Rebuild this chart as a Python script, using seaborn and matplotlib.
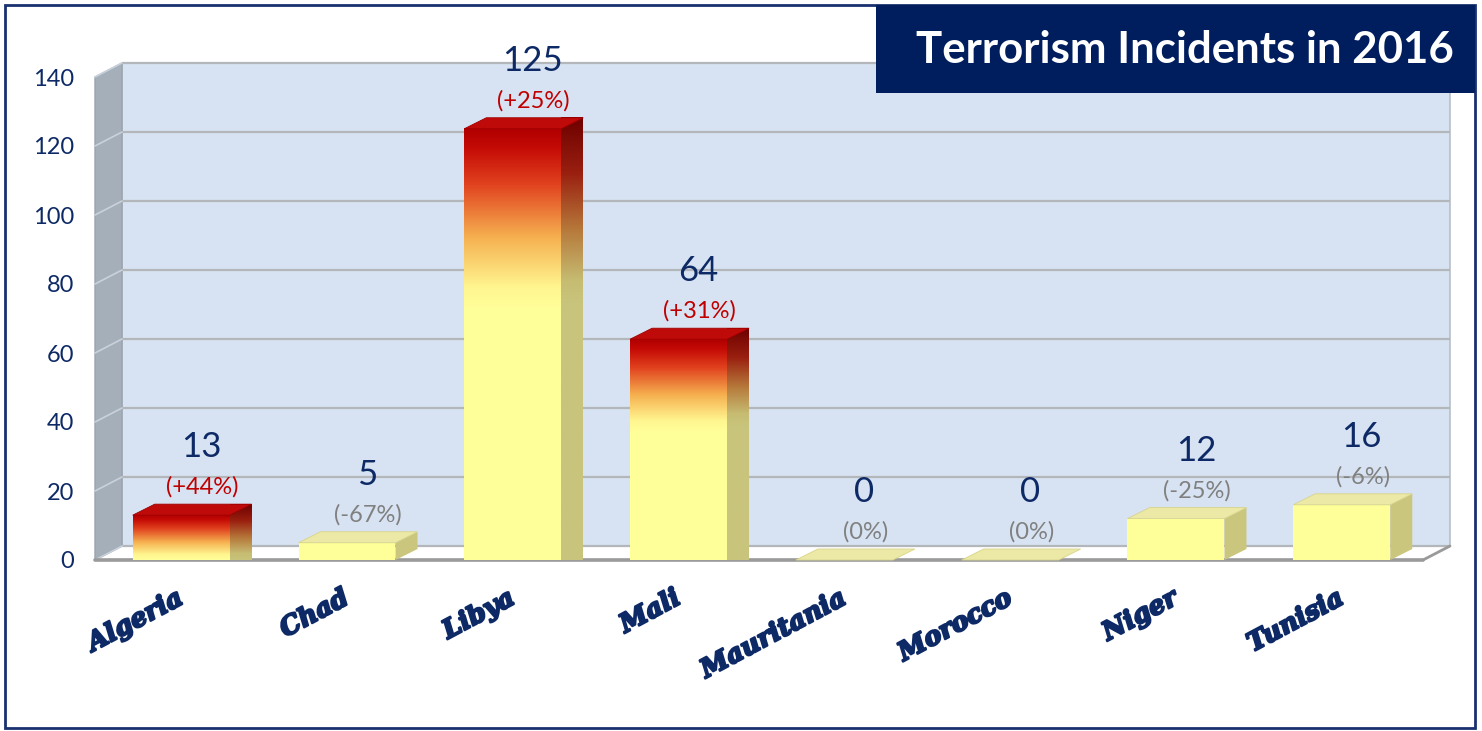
import numpy as np
import pandas as pd
import matplotlib
matplotlib.use("Agg")
import matplotlib.pyplot as plt
import matplotlib.patheffects as pe
import seaborn as sns
from matplotlib.patches import Polygon, Rectangle
from matplotlib.colors import LinearSegmentedColormap

# ---------------- data ----------------
countries = ["Algeria", "Chad", "Libya", "Mali", "Mauritania", "Morocco", "Niger", "Tunisia"]
incidents = [13, 5, 125, 64, 0, 0, 12, 16]
change_pct = [44, -67, 25, 31, 0, 0, -25, -6]
yticks = [0, 20, 40, 60, 80, 100, 120, 140]
title = "Terrorism Incidents in 2016"

# ---------------- style ----------------
sns.set_theme(style="white")
plt.rcParams['font.family'] = ['Lato', 'DejaVu Sans']

NAVY = "#0e2a66"
W, H = 1482, 731
fig = plt.figure(figsize=(W / 100, H / 100), dpi=100)
fig.patch.set_facecolor("white")


def px_ax(l, t, r, b):
    return [l / W, 1 - b / H, (r - l) / W, (b - t) / H]


AX_L, AX_T, AX_R, AX_B = 95, 77, 1423, 560
ax = fig.add_axes(px_ax(AX_L, AX_T, AX_R, AX_B))
df = pd.DataFrame({"country": countries, "incidents": incidents})
sns.barplot(data=df, x="country", y="incidents", ax=ax, color="#ffff99",
            width=0.585, saturation=1, zorder=3, linewidth=0)
bars = list(ax.patches)

XL = (-0.52, 7.49)
ax.set_xlim(*XL)
ax.set_ylim(0, 140)
ax.set_facecolor("none")
for s in ax.spines.values():
    s.set_visible(False)
ax.grid(False)
x0, x1 = XL
y0, y1 = 0, 140
ax_w = AX_R - AX_L
ax_h = AX_B - AX_T


def dxd(p):
    return p * (x1 - x0) / ax_w


def dyd(p):
    return p * (y1 - y0) / ax_h


# ---- 3D walls ----
WDX, WDY = dxd(27), dyd(14)
ax.add_patch(Rectangle((x0 + WDX, WDY), x1 - x0, y1 - y0, facecolor="#d7e3f2",
                       edgecolor="#b9bec6", lw=1.2, zorder=0.5, clip_on=False))
ax.add_patch(Polygon([(x0, 0), (x0, y1), (x0 + WDX, y1 + WDY), (x0 + WDX, WDY)],
                     closed=True, facecolor="#a5afba", edgecolor="#9aa4ae", lw=1,
                     zorder=0.6, clip_on=False))
ax.add_patch(Polygon([(x0, 0), (x1, 0), (x1 + WDX, WDY), (x0 + WDX, WDY)],
                     closed=True, facecolor="white", edgecolor="#a0a0a0", lw=1.2,
                     zorder=0.7, clip_on=False))
for v in yticks:
    ax.plot([x0 + WDX, x1 + WDX], [v + WDY, v + WDY], color="#b3b6ba", lw=1.6,
            zorder=0.8, clip_on=False, solid_capstyle="butt")
    ax.plot([x0, x0 + WDX], [v, v + WDY], color="#c9d2dc", lw=1.2, zorder=0.8,
            clip_on=False)
ax.plot([x0, x1], [0, 0], color="#9a9a9a", lw=2.6, zorder=2.5, clip_on=False)
ax.plot([x1, x1 + WDX], [0, WDY], color="#9a9a9a", lw=2.0, zorder=2.5, clip_on=False)

# ---- 3D bars ----
BDX, BDY = dxd(22), dyd(11)
front_cmap = LinearSegmentedColormap.from_list(
    "front", [(0.0, "#ffff99"), (0.12, "#fff690"), (0.4, "#f6b050"),
              (0.7, "#e0401e"), (0.9, "#c40a05"), (1.0, "#b00000")])
side_cmap = LinearSegmentedColormap.from_list(
    "side", [(0.0, "#c9c47c"), (0.12, "#c6bc72"), (0.4, "#b6783a"),
             (0.7, "#9a2010"), (1.0, "#6e0000")])

for i, p in enumerate(bars):
    xl, w, h = p.get_x(), p.get_width(), p.get_height()
    xr = xl + w
    up = change_pct[i] > 0
    side = Polygon([(xr, 0), (xr, h), (xr + BDX, h + BDY), (xr + BDX, BDY)],
                   closed=True, facecolor="#cbc67d" if not up else "none",
                   edgecolor="none", zorder=2.9, clip_on=False)
    ax.add_patch(side)
    top = Polygon([(xl, h), (xr, h), (xr + BDX, h + BDY), (xl + BDX, h + BDY)],
                  closed=True, facecolor="#bf0a0a" if up else "#ece9a6",
                  edgecolor="#d8d48c" if not up else "#a00000", lw=0.6,
                  zorder=3.2, clip_on=False)
    ax.add_patch(top)
    if up and h > 0:
        g = min(1.0, max(0.42, 22.0 / h))
        n = 256
        t = np.linspace(0, 1, n)
        vals = np.clip((t - (1 - g)) / g, 0, 1)
        img = vals[::-1].reshape(-1, 1)
        ax.imshow(img, cmap=front_cmap, vmin=0, vmax=1, aspect="auto",
                  extent=(xl, xr, 0, h), zorder=3.1, interpolation="bilinear")
        im2 = ax.imshow(img, cmap=side_cmap, vmin=0, vmax=1, aspect="auto",
                        extent=(xr, xr + BDX, 0, h + BDY), zorder=2.95,
                        interpolation="bilinear", clip_on=False)
        im2.set_clip_path(side)

ax.set_xlim(*XL)
ax.set_ylim(0, 140)

# ---- value labels ----
for i, p in enumerate(bars):
    cx = p.get_x() + p.get_width() / 2
    h = p.get_height()
    c = change_pct[i]
    ax.annotate(str(incidents[i]), xy=(cx, h), xytext=(20, 68),
                textcoords="offset pixels", ha="center", va="center",
                fontsize=25, color=NAVY, zorder=5, annotation_clip=False)
    lab = f"({c:+d}%)" if c != 0 else "(0%)"
    ax.annotate(lab, xy=(cx, h), xytext=(21, 28), textcoords="offset pixels",
                ha="center", va="center", fontsize=17,
                color="#c00000" if c > 0 else "#808080", zorder=5,
                annotation_clip=False)

# ---- ticks ----
ax.set_yticks(yticks)
ax.set_yticklabels([str(v) for v in yticks], fontsize=17, color=NAVY)
ax.tick_params(axis="y", length=0, pad=15)
ax.set_xticks(range(len(countries)))
ax.set_xticklabels(countries, rotation=28, ha="right", va="center",
                   rotation_mode="anchor", fontfamily="DejaVu Serif",
                   fontweight="bold", fontstyle="italic", fontsize=18.5, color=NAVY)
for tl in ax.get_xticklabels():
    tl.set_path_effects([pe.withStroke(linewidth=1.6, foreground=NAVY)])
ax.tick_params(axis="x", length=0, pad=26)
ax.set_xlabel("")
ax.set_ylabel("")

# ---- frame and title box ----
fig.add_artist(Rectangle((5 / W, 1 - 728 / H), 1470 / W, 723 / H,
                         transform=fig.transFigure, fill=False,
                         edgecolor="#1a3170", lw=2))
fig.add_artist(Rectangle((876 / W, 1 - 93 / H), (1475 - 876) / W, (93 - 5) / H,
                         transform=fig.transFigure, facecolor="#001e5e",
                         edgecolor="none"))
fig.text(1185 / W, 1 - 50 / H, title, color="white", fontsize=31.5,
         fontweight="bold", ha="center", va="center")

fig.savefig("out.png", dpi=100, facecolor="white")
